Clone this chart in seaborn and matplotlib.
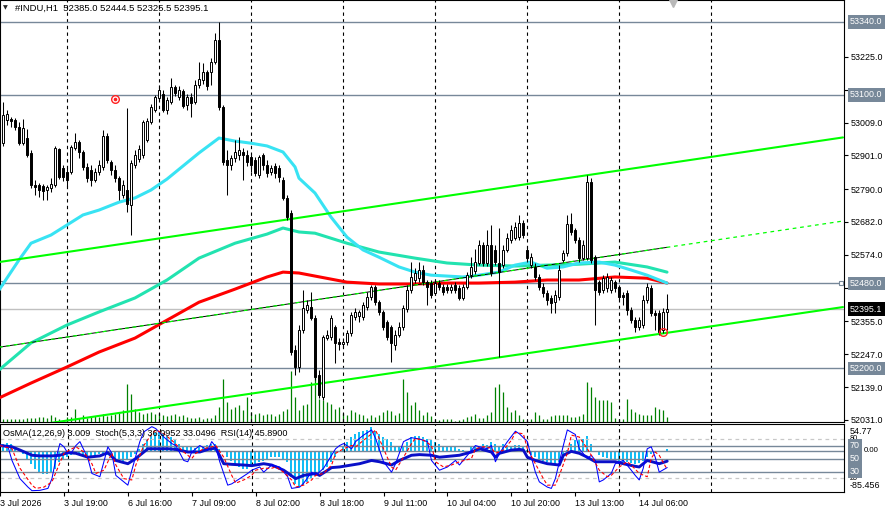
import numpy as np
import pandas as pd
import matplotlib
matplotlib.use("Agg")
import matplotlib.pyplot as plt
import seaborn as sns
from matplotlib.transforms import blended_transform_factory

# ---------------- data ----------------
open_ = [52961, 52941, 53017, 53020, 53017, 52994, 52941, 52958, 52909, 52803,
         52803, 52800, 52787, 52793, 52803, 52922, 52859, 52846, 52846, 52925,
         52945, 52912, 52863, 52853, 52820, 52846, 52863, 52965, 52879, 52853,
         52826, 52770, 52787, 52738, 52869, 52889, 52902, 52951, 53011, 53050,
         53090, 53103, 53050, 53076, 53126, 53093, 53113, 53066, 53093, 53076,
         53132, 53149, 53175, 53175, 53208, 53280, 53060, 52886, 52869, 52892,
         52902, 52912, 52902, 52895, 52886, 52836, 52902, 52869, 52846, 52866,
         52859, 52820, 52761, 52711, 52261, 52205, 52326, 52392, 52402, 52366,
         52178, 52106, 52300, 52303, 52336, 52287, 52280, 52287, 52316, 52369,
         52372, 52369, 52402, 52435, 52468, 52418, 52386, 52353, 52336, 52277,
         52310, 52336, 52395, 52458, 52491, 52497, 52524, 52484, 52481, 52448,
         52481, 52468, 52468, 52458, 52474, 52464, 52432, 52468, 52507, 52520,
         52547, 52606, 52547, 52606, 52590, 52547, 52540, 52590, 52622, 52629,
         52632, 52678, 52590, 52540, 52534, 52501, 52468, 52448, 52432, 52418,
         52435, 52557, 52580, 52675, 52655, 52622, 52563, 52563, 52813, 52566,
         52484, 52458, 52464, 52458, 52484, 52468, 52441, 52448, 52392, 52359,
         52336, 52343, 52425, 52464, 52382, 52382, 52326, 52385.0]
high = [52984, 53076, 53050, 53027, 53024, 53011, 53020, 52988, 52918, 52820,
        52810, 52807, 52803, 52826, 52932, 52925, 52869, 52859, 52935, 52974,
        52951, 52918, 52876, 52869, 52859, 52886, 52984, 52974, 52886, 52869,
        52833, 52820, 53057, 52886, 52918, 52935, 53017, 53024, 53070, 53099,
        53132, 53116, 53093, 53155, 53132, 53129, 53119, 53103, 53106, 53149,
        53208, 53205, 53182, 53221, 53303, 53340, 53066, 52918, 52902, 52951,
        52961, 52925, 52918, 52902, 52895, 52902, 52909, 52886, 52869, 52876,
        52869, 52830, 52770, 52721, 52277, 52343, 52458, 52425, 52451, 52376,
        52195, 52310, 52326, 52376, 52343, 52300, 52300, 52326, 52386, 52399,
        52392, 52418, 52451, 52474, 52474, 52425, 52392, 52359, 52343, 52326,
        52353, 52409, 52474, 52550, 52530, 52550, 52540, 52491, 52491, 52491,
        52491, 52478, 52478, 52478, 52484, 52474, 52478, 52517, 52566, 52593,
        52622, 52616, 52655, 52672, 52606, 52662, 52606, 52645, 52672, 52682,
        52705, 52688, 52603, 52580, 52547, 52511, 52481, 52458, 52441, 52458,
        52540, 52590, 52705, 52711, 52662, 52632, 52622, 52836, 52826, 52573,
        52491, 52507, 52514, 52501, 52491, 52474, 52451, 52458, 52402, 52369,
        52369, 52441, 52481, 52474, 52392, 52392, 52399, 52444.5]
low = [52886, 52932, 53001, 52994, 52984, 52935, 52935, 52895, 52793, 52770,
       52764, 52754, 52754, 52780, 52797, 52823, 52817, 52800, 52840, 52918,
       52892, 52853, 52813, 52800, 52813, 52836, 52853, 52876, 52836, 52813,
       52754, 52761, 52715, 52639, 52859, 52879, 52892, 52945, 53004, 53043,
       53083, 53043, 53037, 53070, 53096, 53083, 53057, 53050, 53027, 53070,
       53122, 53136, 53116, 53132, 53201, 53050, 52869, 52770, 52853, 52879,
       52886, 52820, 52866, 52846, 52833, 52826, 52853, 52830, 52836, 52826,
       52813, 52754, 52688, 52244, 52178, 52188, 52316, 52382, 52359, 52162,
       52103, 52096, 52293, 52293, 52218, 52261, 52270, 52277, 52307, 52359,
       52353, 52359, 52392, 52425, 52409, 52376, 52326, 52293, 52221, 52261,
       52303, 52326, 52386, 52448, 52481, 52484, 52474, 52409, 52432, 52441,
       52458, 52441, 52448, 52448, 52448, 52425, 52425, 52461, 52497, 52511,
       52540, 52537, 52537, 52504, 52540, 52237, 52530, 52583, 52612, 52622,
       52622, 52629, 52550, 52530, 52491, 52458, 52435, 52409, 52382, 52382,
       52425, 52550, 52570, 52639, 52612, 52550, 52557, 52557, 52547, 52343,
       52441, 52448, 52451, 52448, 52451, 52425, 52409, 52376, 52349, 52320,
       52326, 52333, 52415, 52372, 52326, 52310, 52316, 52325.5]
close = [52895, 53034, 53037, 53014, 52994, 52941, 52991, 52902, 52803, 52797,
         52787, 52784, 52797, 52807, 52925, 52830, 52830, 52820, 52928, 52945,
         52912, 52863, 52826, 52820, 52846, 52869, 52965, 52886, 52853, 52826,
         52787, 52803, 52741, 52876, 52902, 52922, 53011, 53014, 53060, 53093,
         53116, 53050, 53083, 53126, 53106, 53116, 53063, 53093, 53073, 53132,
         53152, 53175, 53129, 53208, 53280, 53060, 52879, 52869, 52892, 52912,
         52918, 52902, 52879, 52869, 52843, 52895, 52869, 52843, 52859, 52843,
         52830, 52761, 52698, 52254, 52205, 52326, 52399, 52409, 52366, 52172,
         52112, 52303, 52310, 52366, 52284, 52280, 52287, 52316, 52376, 52386,
         52386, 52409, 52435, 52468, 52418, 52386, 52336, 52303, 52284, 52310,
         52336, 52399, 52458, 52501, 52514, 52524, 52484, 52468, 52441, 52481,
         52468, 52451, 52458, 52468, 52458, 52432, 52468, 52507, 52534, 52550,
         52606, 52547, 52606, 52514, 52550, 52517, 52590, 52629, 52655, 52665,
         52678, 52639, 52563, 52566, 52501, 52468, 52448, 52425, 52415, 52441,
         52524, 52580, 52675, 52649, 52622, 52563, 52606, 52813, 52557, 52458,
         52451, 52497, 52501, 52491, 52464, 52435, 52435, 52392, 52359, 52336,
         52359, 52425, 52468, 52382, 52376, 52320, 52386, 52395.1]
volume = [300, 300, 300, 300, 300, 300, 300, 400, 400, 400,
          500, 500, 400, 700, 500, 300, 200, 500, 500, 1300,
          400, 700, 400, 500, 600, 500, 800, 600, 700, 800,
          1000, 1200, 3800, 2800, 1300, 1000, 800, 900, 1000, 800,
          900, 700, 600, 700, 800, 600, 700, 500, 400, 400,
          500, 300, 400, 400, 700, 1500, 4300, 2000, 1300, 1500,
          1700, 1200, 2500, 1000, 800, 900, 700, 800, 800, 600,
          800, 1100, 1300, 5100, 2500, 1200, 1700, 1800, 4000, 4500,
          2300, 2200, 2000, 1800, 1300, 1500, 900, 700, 1200, 1000,
          800, 700, 400, 700, 500, 700, 1000, 1200, 1100, 700,
          900, 4300, 3000, 1700, 2000, 1200, 700, 1000, 600, 300,
          200, 300, 300, 300, 100, 200, 300, 500, 600, 800,
          400, 400, 700, 1000, 3500, 3800, 3000, 1500, 1000, 1200,
          700, 300, 200, 300, 1000, 700, 300, 300, 600, 700,
          700, 700, 700, 500, 500, 600, 800, 4000, 3500, 2500,
          2200, 2200, 2200, 2000, 400, 300, 300, 2300, 1300, 1000,
          800, 700, 700, 700, 1500, 1300, 1200, 500]
osma = [13.7, 13.7, 15, 13.7, 6.9, -1.4, -6.9, -17, -27, -38,
        -45, -48, -48, -45, -38, -24, -17, -14, -10, -7,
        -10, -10, -14, -14, -10, -7, -7, -10, -14, -17,
        -21, -21, -19, -14, -7, 3.4, 13.7, 24, 31, 36,
        38, 36, 31, 27, 21, 13.7, 6.9, 6.9, 6.9, 5.5,
        6.9, 10, 12, 13.7, 13.7, 3.4, -3.4, -14, -21, -27,
        -34, -38, -38, -34, -31, -24, -21, -17, -14, -14,
        -14, -17, -24, -55, -69, -76, -72, -65, -58, -52,
        -45, -41, -34, -24, -14, -3.4, 6.9, 17, 27, 34,
        38, 41, 43, 48, 41, 34, 27, 24, 17, 10,
        6.9, 6.9, 17, 27, 31, 31, 27, 24, 21, 17,
        13.7, 10, 10, 10, 8, 3.4, 1.4, -1.4, 6.9, 10,
        10, 13.7, 12, 17, 13.7, 10, 13.7, 10, 10, 12,
        12, 10, 1.4, -10, -14, -17, -21, -24, -27, -27,
        -24, -14, 1.4, 13.7, 21, 24, 24, 29, 13.7, -3.4,
        -10, -14, -15, -17, -19, -21, -24, -24, -26, -27,
        -26, -21, -14, -7, -5.5, -3.4, -1.4, 3.009]

stoch_idx = [0, 2, 3, 5, 7, 8, 10, 12, 13, 14, 15, 16, 17, 18, 19, 20, 22, 23, 25, 27,
             28, 29, 32, 33, 35, 36, 38, 39, 41, 43, 44, 46, 47, 48, 50, 52, 53, 54, 55, 57,
             58, 60, 62, 63, 65, 66, 68, 70, 72, 73, 75, 76, 78, 79, 81, 83, 84, 85, 86, 88,
             89, 91, 93, 94, 96, 98, 99, 101, 103, 105, 107, 108, 110, 112, 114, 115, 117, 119, 120, 122,
             123, 124, 125, 127, 129, 130, 132, 133, 134, 135, 137, 138, 139, 141, 142, 144, 145, 147, 148, 149,
             150, 151, 153, 154, 156, 158, 159, 160, 161, 162, 163, 164, 165, 167]
stoch_val = [70, 68, 47, 19, 6, 0.5, 1, 4, 19, 50, 73, 68, 58, 60, 70, 76, 50, 27, 22, 68,
             58, 24, 9, 32, 76, 91, 99, 96, 83, 73, 70, 47, 45, 60, 70, 63, 76, 68, 45, 9,
             11, 19, 27, 32, 37, 29, 40, 37, 22, 4, 6, 12, 29, 24, 35, 55, 65, 70, 73, 65,
             76, 86, 94, 81, 45, 29, 42, 76, 82, 80, 76, 47, 32, 37, 47, 40, 55, 70, 68, 65,
             70, 45, 58, 76, 92, 88, 76, 52, 29, 14, 6, 4, 19, 70, 94, 87, 65, 50, 55, 47,
             14, 17, 27, 42, 47, 32, 24, 17, 35, 65, 68, 52, 29, 36.0952]
signal_idx = [0, 3, 5, 8, 9, 11, 13, 14, 16, 18, 19, 21, 23, 24, 26, 28, 29, 31, 33, 34,
              36, 38, 39, 41, 43, 44, 46, 48, 49, 51, 53, 54, 56, 58, 59, 61, 63, 64, 66, 68,
              69, 71, 73, 74, 76, 78, 79, 81, 83, 84, 86, 88, 89, 91, 93, 94, 96, 98, 99, 101,
              103, 104, 106, 108, 109, 111, 113, 115, 118, 119, 121, 123, 124, 126, 128, 129, 131, 132, 134, 136,
              137, 139, 140, 142, 143, 145, 147, 148, 150, 152, 153, 155, 157, 158, 160, 162, 163, 164, 165, 167]
signal_val = [70, 65, 35, 9, 4, 6, 14, 29, 58, 65, 68, 60, 42, 27, 32, 58, 40, 19, 17, 40,
              70, 88, 94, 88, 78, 72, 60, 50, 58, 65, 68, 70, 52, 24, 12, 17, 24, 32, 35, 35,
              37, 29, 17, 6, 9, 17, 24, 27, 40, 58, 65, 70, 68, 78, 88, 94, 65, 37, 32, 52,
              73, 81, 78, 70, 45, 37, 40, 45, 50, 65, 68, 66, 58, 63, 78, 90, 88, 65, 42, 19,
              9, 9, 24, 58, 86, 83, 65, 55, 32, 22, 24, 37, 45, 40, 27, 22, 50, 60, 55, 33.0496]
rsi_idx = [0, 3, 5, 8, 10, 13, 15, 17, 19, 22, 25, 27, 29, 32, 34, 37, 40, 42, 44, 47,
           50, 52, 54, 56, 58, 61, 63, 66, 68, 71, 74, 76, 79, 80, 83, 85, 88, 90, 93, 95,
           98, 100, 103, 105, 108, 110, 115, 118, 120, 123, 124, 125, 128, 130, 131, 132, 134, 137, 140, 141,
           143, 145, 147, 149, 151, 154, 156, 159, 160, 162, 165, 167]
rsi_val = [70, 68, 63, 55, 54, 54, 55, 59, 58, 52, 54, 59, 47, 42, 50, 65, 65, 65, 64, 60,
           60, 64, 66, 42, 41, 40, 39, 42, 40, 32, 19, 24, 27, 24, 36, 37, 40, 42, 47, 45,
           40, 47, 55, 56, 55, 52, 55, 60, 65, 60, 52, 58, 63, 64, 63, 52, 47, 42, 40, 55,
           61, 58, 52, 45, 45, 45, 42, 38, 37, 47, 42, 45.89]

ma_fast_idx = [0, 5, 8, 13, 17, 21, 25, 30, 34, 38, 42, 46, 50, 55, 59, 63, 67, 71, 74, 75,
               79, 83, 87, 91, 95, 100, 104, 108, 112, 116, 120, 125, 129, 133, 137, 141, 145, 150, 154, 158,
               162, 167]
ma_fast_val = [52458, 52557, 52612, 52639, 52672, 52705, 52721, 52747, 52761, 52787, 52823, 52866, 52909, 52958,
               52948, 52941, 52932, 52912, 52863, 52826, 52777, 52698, 52632, 52590, 52566, 52534, 52517, 52507,
               52504, 52501, 52507, 52517, 52540, 52550, 52530, 52534, 52547, 52550, 52540, 52524, 52507, 52481]
ma_mid_idx = [0, 8, 17, 25, 34, 42, 50, 59, 67, 71, 75, 79, 87, 95, 104, 112, 120, 129, 137, 145, 154, 162, 167]
ma_mid_val = [52195, 52284, 52343, 52386, 52432, 52491, 52563, 52612, 52642, 52662, 52649, 52645, 52612, 52583,
              52563, 52547, 52540, 52537, 52540, 52543, 52550, 52534, 52517]
ma_slow_idx = [0, 8, 17, 25, 34, 42, 50, 59, 67, 71, 75, 79, 87, 95, 104, 112, 120, 129, 137, 145, 154, 162, 167]
ma_slow_val = [52103, 52152, 52205, 52254, 52300, 52359, 52418, 52461, 52501, 52517, 52514, 52504, 52484, 52478,
               52478, 52481, 52481, 52484, 52491, 52491, 52501, 52497, 52481]

channel_idx = [0, 211]
channel_upper = [52550, 52960]
channel_mid = [52270, 52685]
channel_lower = [51996, 52402]

h_levels = [53340, 53100, 52480, 52200]
last_price = 52395.1
price_ticks = [53225, 53117, 53009, 52901, 52790, 52682, 52574, 52466, 52355, 52247, 52139, 52031]
hidden_ticks = [53117, 52466]          # covered by the level boxes in the reference
time_tick_idx = [0, 16, 32, 48, 64, 80, 96, 112, 128, 144, 160]
time_tick_labels = ["3 Jul 2026", "3 Jul 19:00", "6 Jul 16:00", "7 Jul 09:00", "8 Jul 02:00",
                    "8 Jul 18:00", "9 Jul 11:00", "10 Jul 04:00", "10 Jul 20:00", "13 Jul 13:00",
                    "14 Jul 06:00"]
separator_idx = [17, 40, 63, 86, 109, 132, 155, 178]
marker_idx = [29, 166]
marker_price = [53086, 52320]

title_text = "#INDU,H1  52385.0 52444.5 52325.5 52395.1"
ind_text = "OsMA(12,26,9) 3.009  Stoch(5,3,3) 36.0952 33.0496  RSI(14) 45.8900"

# ---------------- styling ----------------
sns.set_style("white")
plt.rcParams["font.family"] = ["Liberation Sans", "DejaVu Sans"]
FS = 6.4
SLATE = "#778899"

W, H = 885, 513
fig = plt.figure(figsize=(W / 100, H / 100), dpi=100)
fig.patch.set_facecolor("white")

main_rect = [0, 1 - 422 / H, 844 / W, 422 / H]
ind_rect = [0, 1 - 492 / H, 844 / W, 68 / H]
XL = (0.25, 211.25)

ax_vol = fig.add_axes(main_rect, zorder=1)
ax = fig.add_axes(main_rect, zorder=2)
ax.patch.set_visible(False)
ax_osma = fig.add_axes(ind_rect, zorder=1)
ax_ind = fig.add_axes(ind_rect, zorder=2)
ax_ind.patch.set_visible(False)

for a in (ax_vol, ax_osma):
    a.set_xlim(*XL)
    a.set_xticks([])
    a.set_yticks([])
    for s in a.spines.values():
        s.set_visible(False)

# volume
idx = np.arange(len(close))
ax_vol.vlines(idx, 0, volume, color="#008000", lw=0.9)
ax_vol.set_ylim(0, 42200)

# main price panel
ax.set_xlim(*XL)
ax.set_ylim(52024, 53412)
for s in ax.spines.values():
    s.set_color("black")
    s.set_linewidth(0.8)

for sx in separator_idx:
    ax.axvline(sx, color="black", lw=0.8, ls=(0, (3, 3)), zorder=1)
    ax_ind.axvline(sx, color="black", lw=0.8, ls=(0, (3, 3)), zorder=1)

for lv in h_levels:
    ax.axhline(lv, color=SLATE, lw=1.0, zorder=1.5)
ax.axhline(last_price, color="#c0c0c0", lw=1.0, zorder=1.5)
ax.plot([0.4, 210.4], [52480, 52480], ls="none", marker="s", ms=3, mfc="white",
        mec=SLATE, mew=0.8, zorder=2, clip_on=False)

# moving averages
sns.lineplot(x=ma_slow_idx, y=ma_slow_val, ax=ax, color="#ff0000", lw=2.2, zorder=3)
sns.lineplot(x=ma_mid_idx, y=ma_mid_val, ax=ax, color="#22e3b0", lw=2.2, zorder=3)
sns.lineplot(x=ma_fast_idx, y=ma_fast_val, ax=ax, color="#38e3f3", lw=2.2, zorder=3)

# channel
ax.plot(channel_idx, channel_upper, color="#00ff00", lw=1.5, zorder=3.5)
ax.plot(channel_idx, channel_lower, color="#00ff00", lw=1.5, zorder=3.5)
mid_slope = (channel_mid[1] - channel_mid[0]) / (channel_idx[1] - channel_idx[0])
ax.plot([0, len(close) - 1], [channel_mid[0], channel_mid[0] + mid_slope * (len(close) - 1)],
        color="black", lw=0.7, zorder=3.5)
ax.plot(channel_idx, channel_mid, color="#00ff00", lw=0.9, ls=(0, (3, 3)), zorder=3.6)

# candles
o = np.array(open_); c = np.array(close); hi = np.array(high); lo = np.array(low)
up = c >= o
ax.vlines(idx, lo, hi, color="black", lw=0.75, zorder=5)
ax.bar(idx[up], c[up] - o[up], bottom=o[up], width=0.5, color="white",
       edgecolor="black", lw=0.7, zorder=6)
ax.bar(idx[~up], o[~up] - c[~up], bottom=c[~up], width=0.5, color="black",
       edgecolor="black", lw=0.7, zorder=6)

# markers
ax.plot(marker_idx[0], marker_price[0], marker="o", ms=5.5, mfc="white", mec="#ff2020", mew=1.0, zorder=7)
ax.plot(marker_idx[0], marker_price[0], marker="o", ms=1.6, color="#ff2020", zorder=7.1)
ax.plot(marker_idx[1], marker_price[1], marker="o", ms=5.5, mfc="none", mec="#ff2020", mew=1.0, zorder=7)
trans_top = blended_transform_factory(ax.transData, ax.transAxes)
ax.plot(168.5, 0.992, marker="v", ms=6, color="#b8b8b8", transform=trans_top, clip_on=False, zorder=8)

# right price axis
ax.set_xticks([])
ax.yaxis.tick_right()
ax.set_yticks(price_ticks)
ax.set_yticklabels(["" if v in hidden_ticks else f"{v:.1f}" for v in price_ticks])
ax.tick_params(axis="y", direction="out", length=3, width=0.8, pad=2, labelsize=FS, colors="black")
trans_r = blended_transform_factory(ax.transAxes, ax.transData)
for lv in h_levels:
    ax.text(1.0071, lv, f"{lv:.1f}", transform=trans_r, ha="left", va="center", fontsize=FS,
            color="white", zorder=10, clip_on=False,
            bbox=dict(boxstyle="square,pad=0.25", fc=SLATE, ec="none"))
ax.text(1.0071, last_price, f"{last_price:.1f}", transform=trans_r, ha="left", va="center",
        fontsize=FS, color="white", zorder=10, clip_on=False,
        bbox=dict(boxstyle="square,pad=0.25", fc="black", ec="none"))

# title
ax.text(3 / 844, 1 - 8 / 422, "\u25BC", transform=ax.transAxes, fontsize=4.5, va="center",
        ha="left", family=["DejaVu Sans"], zorder=10)
ax.text(15 / 844, 1 - 8 / 422, title_text, transform=ax.transAxes, fontsize=6.8,
        va="center", ha="left", color="black", zorder=10)

# indicator panel
ax_osma.set_ylim(-85.456, 54.77)
ax_osma.bar(idx, osma, width=0.7, color="#12bdf5", lw=0, zorder=2)
ax_osma.axhline(0, color=SLATE, lw=1.0, zorder=3)

ax_ind.set_xlim(*XL)
ax_ind.set_ylim(-1.54, 103.1)
for s in ax_ind.spines.values():
    s.set_color("black")
    s.set_linewidth(0.8)
for lv in (80, 20):
    ax_ind.axhline(lv, color="#c8c8c8", lw=0.9, ls=(0, (3, 3)), zorder=1.5)
for lv in (70, 50, 30):
    ax_ind.axhline(lv, color=SLATE, lw=1.0, zorder=1.5)

sns.lineplot(x=rsi_idx, y=rsi_val, ax=ax_ind, color="#0a10c8", lw=2.1, zorder=3)
sns.lineplot(x=stoch_idx, y=stoch_val, ax=ax_ind, color="#0000ff", lw=0.75, zorder=3.5)
sns.lineplot(x=signal_idx, y=signal_val, ax=ax_ind, color="#ff0000", lw=0.8, zorder=3.6)
ax_ind.lines[-1].set_linestyle((0, (3, 2)))

ax_ind.set_ylabel("")
ax.set_ylabel("")
ax_ind.set_yticks([])
ax_ind.set_xticks(time_tick_idx)
ax_ind.set_xticklabels(time_tick_labels, ha="left")
ax_ind.tick_params(axis="x", direction="out", length=3, width=0.8, pad=2, labelsize=FS,
                   colors="black", bottom=True)

ax_ind.text(3 / 844, 1 - 9 / 68, ind_text, transform=ax_ind.transAxes, fontsize=6.6,
            va="center", ha="left", color="black", zorder=10)

trans_ir = blended_transform_factory(ax_ind.transAxes, ax_ind.transData)
trans_or = blended_transform_factory(ax_osma.transAxes, ax_osma.transData)
ax_ind.text(1.0071, 1 - 8 / 68, "54.77", transform=ax_ind.transAxes, ha="left", va="center",
            fontsize=FS, color="black", clip_on=False, zorder=9)
ax_ind.text(1.0071, 6 / 68, "-85.456", transform=ax_ind.transAxes, ha="left", va="center",
            fontsize=FS, color="black", clip_on=False, zorder=9)
ax_ind.text(1.0071, 81, "80", transform=trans_ir, ha="left", va="center", fontsize=5.2,
            color="black", clip_on=False, zorder=9)
ax_ind.text(1.0071, 19, "20", transform=trans_ir, ha="left", va="center", fontsize=5.2,
            color="black", clip_on=False, zorder=9)
ax_osma.text(1.0071 + 14 / 844, 0, "0.00", transform=trans_or, ha="left", va="center",
             fontsize=5.6, color="black", clip_on=False, zorder=9)
for lv in (70, 50, 30):
    ax_ind.text(1.0071, lv, f"{lv}", transform=trans_ir, ha="left", va="center", fontsize=FS,
                color="white", clip_on=False, zorder=11,
                bbox=dict(boxstyle="square,pad=0.2", fc=SLATE, ec="none"))

fig.savefig("out.png", dpi=100, facecolor="white")
